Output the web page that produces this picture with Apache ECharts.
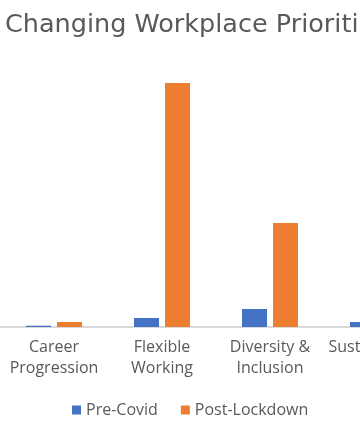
<!DOCTYPE html>
<html>
<head>
<meta charset="utf-8">
<script src="https://cdn.jsdelivr.net/npm/echarts@6/dist/echarts.min.js"></script>
<style>
html,body{margin:0;padding:0;background:#fff;overflow:hidden;width:360px;height:438px;}
#chart{width:432px;height:438px;}
</style>
</head>
<body>
<div id="chart"></div>
<script>
const titleText = "Changing Workplace Priorities";
const categories = ["Career\nProgression", "Flexible\nWorking", "Diversity &\nInclusion", "Sustainability"];
const seriesNames = ["Pre-Covid", "Post-Lockdown"];
const preCovid = [1.3, 9, 18, 5];
const postLockdown = [5, 244, 104, 10];

const chart = echarts.init(document.getElementById('chart'), null, {renderer: 'canvas'});
const FONT = 'Open Sans';
chart.setOption({
  animation: false,
  backgroundColor: '#ffffff',
  title: {
    text: titleText,
    left: 0,
    top: 7,
    textStyle: {fontFamily: 'DejaVu Sans', fontSize: 25.5, fontWeight: 'normal', color: '#595959'}
  },
  legend: {
    data: seriesNames,
    left: 67,
    top: 397,
    icon: 'rect',
    itemWidth: 9,
    itemHeight: 9,
    itemGap: 23,
    textStyle: {fontFamily: FONT, fontSize: 16, color: '#595959'}
  },
  grid: {left: 0, top: 77, right: 0, height: 250, containLabel: false},
  xAxis: {
    type: 'category',
    data: categories,
    axisLine: {lineStyle: {color: '#d9d9d9', width: 2}},
    axisTick: {show: false},
    axisLabel: {interval: 0, margin: 10, fontFamily: FONT, fontSize: 16, lineHeight: 21, color: '#595959', align: 'center'}
  },
  yAxis: {
    type: 'value', min: 0, max: 250, show: false,
    splitLine: {show: false}
  },
  series: [
    {name: seriesNames[0], type: 'bar', data: preCovid, barWidth: 25, barGap: '24%', itemStyle: {color: '#4472C4'}},
    {name: seriesNames[1], type: 'bar', data: postLockdown, barWidth: 25, barGap: '24%', itemStyle: {color: '#ED7D31'}}
  ]
});
</script>
</body>
</html>
